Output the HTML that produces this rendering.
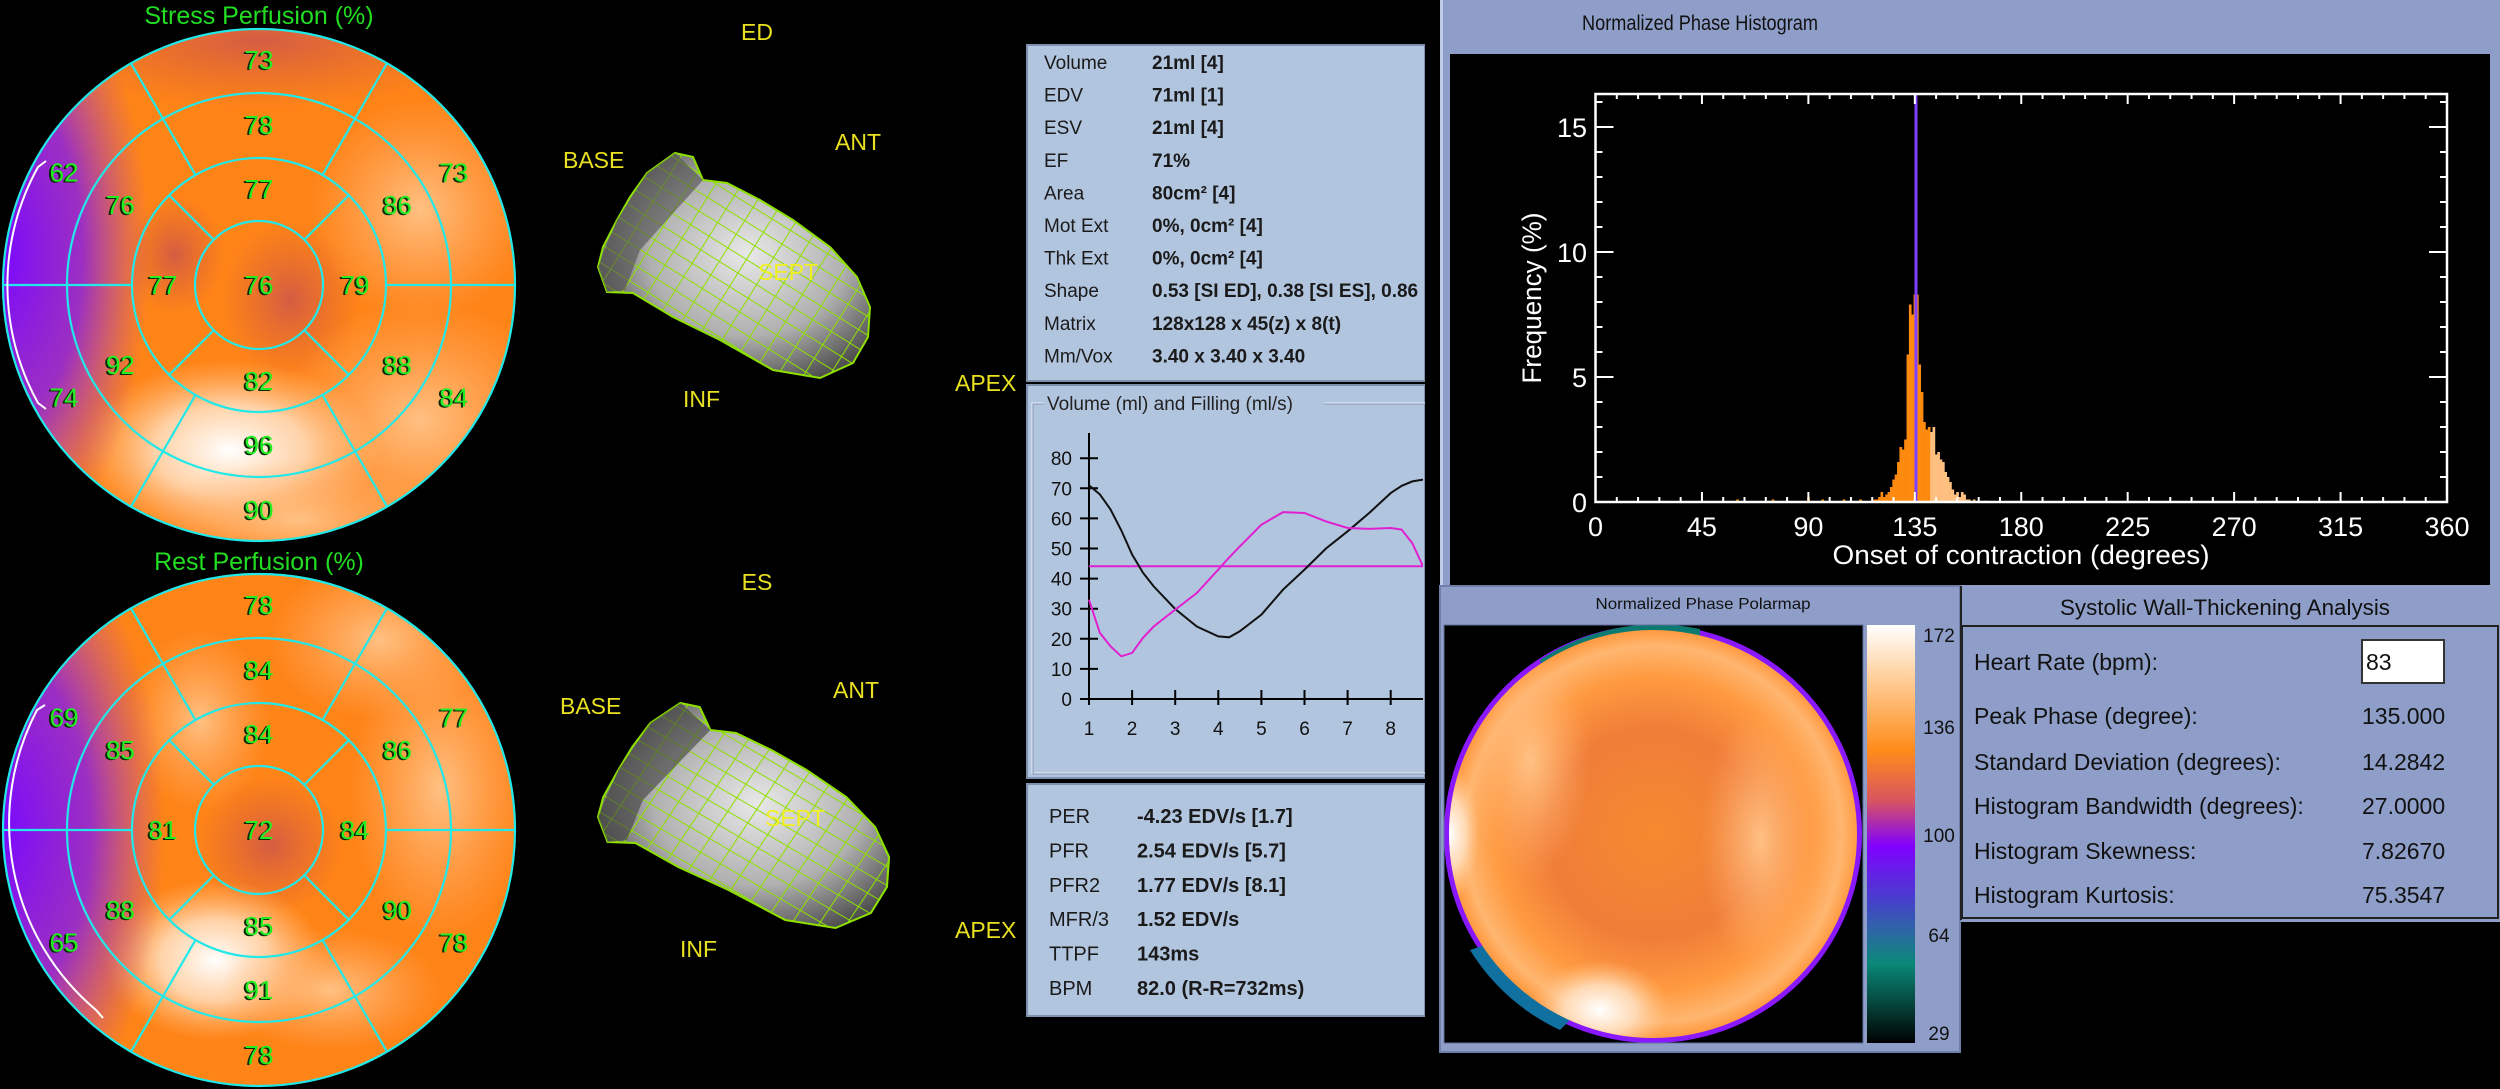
<!DOCTYPE html>
<html><head><meta charset="utf-8"><style>
html,body{margin:0;padding:0;background:#000;overflow:hidden;width:2500px;height:1089px;}
svg{display:block;}
text{font-family:"Liberation Sans",sans-serif;}
</style></head><body>
<svg id="root" xmlns="http://www.w3.org/2000/svg" width="2500" height="1089" viewBox="0 0 2500 1089">
<defs>
  <radialGradient id="gPurpleL" cx="0.5" cy="0.5" r="0.5"><stop offset="0" stop-color="#7a08ff" stop-opacity="1"/><stop offset="0.55" stop-color="#8a20e0" stop-opacity="0.85"/><stop offset="1" stop-color="#a040c0" stop-opacity="0"/></radialGradient>
  <radialGradient id="gWhite" cx="0.5" cy="0.5" r="0.5"><stop offset="0" stop-color="#ffffff" stop-opacity="1"/><stop offset="0.5" stop-color="#ffe6cc" stop-opacity="0.8"/><stop offset="1" stop-color="#ffc890" stop-opacity="0"/></radialGradient>
  <radialGradient id="gPeach" cx="0.5" cy="0.5" r="0.5"><stop offset="0" stop-color="#ffc488" stop-opacity="0.95"/><stop offset="1" stop-color="#ffb070" stop-opacity="0"/></radialGradient>
  <radialGradient id="gDark" cx="0.5" cy="0.5" r="0.5"><stop offset="0" stop-color="#d05848" stop-opacity="0.9"/><stop offset="1" stop-color="#d86038" stop-opacity="0"/></radialGradient>
  <radialGradient id="gHeart" cx="0.55" cy="0.45" r="0.6"><stop offset="0" stop-color="#e8e8e8"/><stop offset="0.6" stop-color="#b0b0b0"/><stop offset="1" stop-color="#505050"/></radialGradient>
  <pattern id="mesh" width="22" height="16" patternUnits="userSpaceOnUse" patternTransform="rotate(32)"><path d="M0 0H22M0 0V16" stroke="#8ee000" stroke-width="2" fill="none"/></pattern>
  <linearGradient id="gBar" x1="0" y1="0" x2="0" y2="1"><stop offset="0" stop-color="#ffffff"/><stop offset="0.12" stop-color="#ffd2a0"/><stop offset="0.3" stop-color="#ff8c1a"/><stop offset="0.42" stop-color="#d85560"/><stop offset="0.53" stop-color="#8000ff"/><stop offset="0.65" stop-color="#4a3cd0"/><stop offset="0.74" stop-color="#2a6aa0"/><stop offset="0.81" stop-color="#0a8878"/><stop offset="0.9" stop-color="#064a40"/><stop offset="1" stop-color="#000000"/></linearGradient>
  <radialGradient id="gPhase" cx="0.5" cy="0.5" r="0.5"><stop offset="0" stop-color="#f58a30"/><stop offset="0.5" stop-color="#f07d38"/><stop offset="0.75" stop-color="#ff9a40"/><stop offset="0.9" stop-color="#ffb670"/><stop offset="1" stop-color="#ff9030"/></radialGradient>
  <clipPath id="clipStress"><circle cx="259" cy="285" r="256"/></clipPath>
  <clipPath id="clipRest"><circle cx="259" cy="830" r="256"/></clipPath>
  <clipPath id="clipMid"><rect x="1029" y="45" width="394" height="1000"/></clipPath>
  <clipPath id="clipPhase"><circle cx="1653" cy="834" r="204"/></clipPath>
</defs>

<g>
  <text x="259" y="24" font-size="25" fill="#22dd22" text-anchor="middle">Stress Perfusion (%)</text>
  <g clip-path="url(#clipStress)">
    <rect x="0" y="25" width="520" height="520" fill="#ff8418"/>
    <ellipse cx="260" cy="40" rx="230" ry="70" fill="url(#gDark)"/>
    <ellipse cx="290" cy="300" rx="70" ry="80" fill="url(#gDark)"/>
    <ellipse cx="175" cy="255" rx="50" ry="60" fill="url(#gDark)"/>
    <ellipse cx="420" cy="210" rx="110" ry="110" fill="url(#gPeach)"/>
    <ellipse cx="420" cy="420" rx="140" ry="120" fill="url(#gPeach)"/>
    <ellipse cx="230" cy="450" rx="150" ry="90" fill="url(#gWhite)"/>
    <ellipse cx="300" cy="520" rx="150" ry="60" fill="url(#gPeach)"/>
    <ellipse cx="0" cy="255" rx="150" ry="310" fill="url(#gPurpleL)"/>
  </g>
  <g id="stressGrid" stroke="#22e8e8" stroke-width="2.2" fill="none"></g>
  <g id="stressLabels"></g>
  <path d="M46 161 L38 167 A243 243 0 0 0 38 403 L46 409" stroke="#fff" stroke-width="2" fill="none"/>
</g>

<g>
  <text x="259" y="570" font-size="25" fill="#22dd22" text-anchor="middle">Rest Perfusion (%)</text>
  <g clip-path="url(#clipRest)">
    <rect x="0" y="570" width="520" height="520" fill="#ff8418"/>
    <ellipse cx="270" cy="845" rx="75" ry="70" fill="url(#gDark)"/>
    <ellipse cx="380" cy="640" rx="110" ry="80" fill="url(#gPeach)"/>
    <ellipse cx="440" cy="790" rx="90" ry="150" fill="url(#gPeach)"/>
    <ellipse cx="200" cy="720" rx="70" ry="90" fill="url(#gPeach)"/>
    <ellipse cx="215" cy="960" rx="110" ry="80" fill="url(#gWhite)"/>
    <ellipse cx="330" cy="990" rx="110" ry="60" fill="url(#gPeach)"/>
    <ellipse cx="0" cy="830" rx="165" ry="320" fill="url(#gPurpleL)"/>
  </g>
  <g id="restGrid" stroke="#22e8e8" stroke-width="2.2" fill="none"></g>
  <g id="restLabels"></g>
  <path d="M45 705 L37 710 A244 244 0 0 0 96 1010 L103 1018" stroke="#fff" stroke-width="2" fill="none"/>
</g>

<g font-size="23" fill="#e8e020">
  <text x="757" y="40" text-anchor="middle">ED</text>
  <text x="563" y="168">BASE</text>
  <text x="835" y="150">ANT</text>
  <g>
    <polygon points="675,153 693,157 703,180 727,183 760,200 793,220 830,247 857,277 870,307 868,337 853,363 820,378 773,370 720,340 673,317 633,293 607,292 598,267 603,247 617,220 630,197 647,173" fill="url(#gHeart)" stroke="#8ee000" stroke-width="2"/>
    <polygon points="675,153 693,157 703,180 727,183 760,200 793,220 830,247 857,277 870,307 868,337 853,363 820,378 773,370 720,340 673,317 633,293 607,292 598,267 603,247 617,220 630,197 647,173" fill="url(#mesh)"/>
    <polygon points="675,153 703,180 640,250 625,290 607,292 598,267 617,220 647,173" fill="#505050" opacity="0.6"/>
  </g>
  <text x="758" y="280" fill="#f0f020">SEPT</text>
  <text x="683" y="407">INF</text>
  <text x="955" y="391">APEX</text>
</g>
<g font-size="23" fill="#e8e020">
  <text x="757" y="590" text-anchor="middle">ES</text>
  <text x="560" y="714">BASE</text>
  <text x="833" y="698">ANT</text>
  <g transform="translate(598 550) scale(1.07 1.0) translate(-598 0)">
    <polygon points="675,153 693,157 703,180 727,183 760,200 793,220 830,247 857,277 870,307 868,337 853,363 820,378 773,370 720,340 673,317 633,293 607,292 598,267 603,247 617,220 630,197 647,173" fill="url(#gHeart)" stroke="#8ee000" stroke-width="2"/>
    <polygon points="675,153 693,157 703,180 727,183 760,200 793,220 830,247 857,277 870,307 868,337 853,363 820,378 773,370 720,340 673,317 633,293 607,292 598,267 603,247 617,220 630,197 647,173" fill="url(#mesh)"/>
    <polygon points="675,153 703,180 640,250 625,290 607,292 598,267 617,220 647,173" fill="#404040" opacity="0.6"/>
  </g>
  <text x="765" y="826" fill="#f0f020">SEPT</text>
  <text x="680" y="957">INF</text>
  <text x="955" y="938">APEX</text>
</g>

<g>
  <rect x="1027" y="45" width="398" height="336" fill="#b2c5df" stroke="#7f8fae" stroke-width="2"/>
  <g font-size="19" fill="#1a1a1a" id="statsTop"></g>
  <rect x="1027" y="385" width="398" height="393" fill="#b2c5df" stroke="#7f8fae" stroke-width="2"/>
  <rect x="1032" y="403" width="400" height="370" fill="none" stroke="#dbe4f0" stroke-width="1.5"/>
  <rect x="1033" y="404" width="400" height="370" fill="none" stroke="#8797b5" stroke-width="1"/>
  <rect x="1043" y="390" width="282" height="26" fill="#b2c5df"/>
  <text x="1047" y="410" font-size="19" fill="#222">Volume (ml) and Filling (ml/s)</text>
  <g id="volChart" clip-path="url(#clipMid)"></g>
  <rect x="1027" y="784" width="398" height="232" fill="#b2c5df" stroke="#7f8fae" stroke-width="2"/>
  <g font-size="20" fill="#1a1a1a" id="statsBottom"></g>
</g>
<rect x="1425" y="0" width="15" height="1089" fill="#000"/>

<g>
  <rect x="1440" y="0" width="1060" height="1052" fill="#8e9ec8"/>
  <rect x="1440" y="0" width="3" height="1052" fill="#c0ccea"/>
  <text x="1700" y="30" font-size="21" fill="#111" text-anchor="middle" textLength="236" lengthAdjust="spacingAndGlyphs">Normalized Phase Histogram</text>
  <rect x="1450" y="54" width="1040" height="531" fill="#000"/>
  <g id="hist"></g>
</g>

<g>
  <rect x="1440" y="586" width="520" height="466" fill="#8e9ec8" stroke="#6f7fa8" stroke-width="2"/>
  <text x="1703" y="609" font-size="16" fill="#111" text-anchor="middle" textLength="215" lengthAdjust="spacingAndGlyphs">Normalized Phase Polarmap</text>
  <rect x="1444" y="625" width="419" height="418" fill="#000"/>
  <circle cx="1653" cy="834" r="209" fill="#8a18ff"/>
  <path d="M1540 660 A209 209 0 0 1 1700 629 L1700 645 L1545 675 Z" fill="#0c7a70"/>
  <path d="M1470 950 A209 209 0 0 0 1560 1030 L1575 1015 L1485 945 Z" fill="#1070a0"/>
  <g clip-path="url(#clipPhase)">
    <rect x="1444" y="625" width="419" height="418" fill="url(#gPhase)"/>
    <ellipse cx="1530" cy="760" rx="60" ry="120" fill="url(#gPeach)"/>
    <ellipse cx="1760" cy="840" rx="60" ry="130" fill="url(#gPeach)"/>
    <ellipse cx="1600" cy="1010" rx="70" ry="50" fill="url(#gWhite)"/>
    <ellipse cx="1450" cy="834" rx="30" ry="70" fill="url(#gWhite)"/>
  </g>
  <rect x="1444" y="625" width="419" height="418" fill="none" stroke="#6070a0" stroke-width="1"/>
  <rect x="1867" y="625" width="48" height="418" fill="url(#gBar)"/>
  <g font-size="19" fill="#111" text-anchor="middle">
    <text x="1939" y="642">172</text><text x="1939" y="734">136</text><text x="1939" y="842">100</text><text x="1939" y="942">64</text><text x="1939" y="1040">29</text>
  </g>
</g>

<g>
  <rect x="1961" y="586" width="539" height="37" fill="#8e9ec8"/>
  <line x1="1961" y1="586" x2="1961" y2="920" stroke="#222" stroke-width="2"/>
  <text x="2225" y="615" font-size="22" fill="#111" text-anchor="middle" textLength="330" lengthAdjust="spacingAndGlyphs">Systolic Wall-Thickening Analysis</text>
  <rect x="1962" y="626" width="536" height="292" fill="#8e9ec8" stroke="#222" stroke-width="2"/>
  <g id="wallStats" font-size="23" fill="#111"></g>
  <rect x="2362" y="640" width="82" height="43" fill="#fff" stroke="#333" stroke-width="2"/>
  <text x="2366" y="670" font-size="23" fill="#111">83</text>
</g>
<rect x="1961" y="922" width="539" height="167" fill="#000"/>
</svg>
<script>
const basalAngles=[90,30,-30,-90,-150,150];
const apicalAngles=[90,0,-90,180];
const stressBasal=[73,73,84,90,74,62];
const stressMid=[78,86,88,96,92,76];
const stressApical=[77,79,82,77];
const stressApex=76;
const restBasal=[78,77,78,78,65,69];
const restMid=[84,86,90,91,88,85];
const restApical=[84,84,85,81];
const restApex=72;
const NS='http://www.w3.org/2000/svg';
function mk(tag,attrs,parent){const e=document.createElementNS(NS,tag);for(const k in attrs)e.setAttribute(k,attrs[k]);parent.appendChild(e);return e;}
function polar(cx,cy,gridId,labId,basal,mid,apical,apex,prefix){
  const g=document.getElementById(gridId), L=document.getElementById(labId);
  const R=[256,192,127,64];
  R.forEach((r,i)=>{const c=mk('circle',{cx:cx,cy:cy,r:r},g);
    
    });
  const rad=a=>a*Math.PI/180;
  [0,60,120,180,240,300].forEach(a=>{const l=mk('line',{x1:cx+127*Math.cos(rad(a)),y1:cy-127*Math.sin(rad(a)),x2:cx+256*Math.cos(rad(a)),y2:cy-256*Math.sin(rad(a))},g);
    
    });
  [45,135,225,315].forEach(a=>{const l=mk('line',{x1:cx+64*Math.cos(rad(a)),y1:cy-64*Math.sin(rad(a)),x2:cx+127*Math.cos(rad(a)),y2:cy-127*Math.sin(rad(a))},g);
    
    });
  function lab(x,y,v){
    const s=mk('text',{x:x-2,y:y+10,'font-size':26,'text-anchor':'middle',fill:'#0a2a0a'},L);s.textContent=v;
    
    
    const t=mk('text',{x:x,y:y+9,'font-size':26,'text-anchor':'middle',fill:'#22ee22'},L);t.textContent=v;
    
    }
  basal.forEach((v,i)=>lab(cx+225*Math.cos(rad(basalAngles[i])),cy-225*Math.sin(rad(basalAngles[i])),v));
  mid.forEach((v,i)=>lab(cx+160*Math.cos(rad(basalAngles[i])),cy-160*Math.sin(rad(basalAngles[i])),v));
  apical.forEach((v,i)=>lab(cx+96*Math.cos(rad(apicalAngles[i])),cy-96*Math.sin(rad(apicalAngles[i])),v));
  lab(cx,cy,apex);
}
polar(259,285,'stressGrid','stressLabels',stressBasal,stressMid,stressApical,stressApex,'stress');
polar(259,830,'restGrid','restLabels',restBasal,restMid,restApical,restApex,'rest');

const topLabels=['Volume','EDV','ESV','EF','Area','Mot Ext','Thk Ext','Shape','Matrix','Mm/Vox'];
const topValues=['21ml [4]','71ml [1]','21ml [4]','71%','80cm\u00b2 [4]','0%, 0cm\u00b2 [4]','0%, 0cm\u00b2 [4]','0.53 [SI ED],  0.38 [SI ES],  0.86','128x128 x 45(z) x 8(t)','3.40 x 3.40 x 3.40'];
const st=document.getElementById('statsTop');
topLabels.forEach((l,i)=>{const y=69+i*32.6;
  const a=mk('text',{x:1044,y:y},st);a.textContent=l;
  
  
  const b=mk('text',{x:1152,y:y,'font-weight':'bold','clip-path':'url(#clipMid)'},st);b.textContent=topValues[i];
  
  });
const botLabels=['PER','PFR','PFR2','MFR/3','TTPF','BPM'];
const botValues=['-4.23 EDV/s [1.7]','2.54 EDV/s [5.7]','1.77 EDV/s [8.1]','1.52 EDV/s','143ms','82.0 (R-R=732ms)'];
const sb=document.getElementById('statsBottom');
botLabels.forEach((l,i)=>{const y=823+i*34.4;
  const a=mk('text',{x:1049,y:y},sb);a.textContent=l;
  
  
  const b=mk('text',{x:1137,y:y,'font-weight':'bold'},sb);b.textContent=botValues[i];
  
  });

const frames=[1,1.25,1.5,1.75,2,2.25,2.5,3,3.5,4,4.25,4.5,5,5.5,6,6.5,7,7.5,8,8.25,8.5,8.75];
const volume=[71,68,63,56,48,42,37.4,29.9,24.1,20.8,20.5,22.5,28,36.3,43,50,55.7,61.8,68.4,70.8,72.3,72.9];
const filling=[33,22,17.5,14.2,15.3,20.3,24.1,29.7,35.2,43,47,50.7,57.9,62.1,61.8,59,56.8,56.5,56.8,56.3,51.8,44.1];
const fillingMean=44.1;
const volYTicks=[0,10,20,30,40,50,60,70,80];
const volXTicks=[1,2,3,4,5,6,7,8];
const vx=t=>1089+(t-1)*43.1, vy=v=>699-v*3.01;
const vc=document.getElementById('volChart');
let ax=mk('line',{x1:vx(1),y1:433,x2:vx(1),y2:vy(0)+6,stroke:'#000','stroke-width':2},vc);


ax=mk('line',{x1:vx(1)-8,y1:vy(0),x2:1430,y2:vy(0),stroke:'#000','stroke-width':2},vc);


volYTicks.forEach(v=>{const l=mk('line',{x1:vx(1)-9,y1:vy(v),x2:vx(1)+9,y2:vy(v),stroke:'#000','stroke-width':2},vc);
  
  
  const t=mk('text',{x:1072,y:vy(v)+7,'font-size':19,'text-anchor':'end',fill:'#111'},vc);t.textContent=v;
  
  });
volXTicks.forEach(v=>{const l=mk('line',{x1:vx(v),y1:vy(0)-9,x2:vx(v),y2:vy(0)+6,stroke:'#000','stroke-width':2},vc);
  
  
  const t=mk('text',{x:vx(v),y:735,'font-size':19,'text-anchor':'middle',fill:'#111'},vc);t.textContent=v;
  
  });
let hl=mk('line',{x1:vx(1),y1:vy(fillingMean),x2:1430,y2:vy(fillingMean),stroke:'#e020d0','stroke-width':2},vc);


function linePath(xs,ys){let d='M'+vx(xs[0])+' '+vy(ys[0]);for(let i=1;i<xs.length;i++){d+=' L'+vx(xs[i]).toFixed(1)+' '+vy(ys[i]).toFixed(1);}return d;}
let p=mk('path',{d:linePath(frames,volume),fill:'none',stroke:'#111','stroke-width':2},vc);


p=mk('path',{d:linePath(frames,filling),fill:'none',stroke:'#e020d0','stroke-width':2},vc);



const wallLabels=['Heart Rate (bpm):','Peak Phase (degree):','Standard Deviation (degrees):','Histogram Bandwidth (degrees):','Histogram Skewness:','Histogram Kurtosis:'];
const wallValues=['','135.000','14.2842','27.0000','7.82670','75.3547'];
const wallY=[670,724,770,814,859,903];
const ws=document.getElementById('wallStats');
wallLabels.forEach((l,i)=>{const a=mk('text',{x:1974,y:wallY[i]},ws);a.textContent=l;
  
  
  if(wallValues[i]){const b=mk('text',{x:2362,y:wallY[i]},ws);b.textContent=wallValues[i];
  
  }});

const histDegrees=[60,75,90,96,105,112,118,119,120,121,122,123,124,125,126,127,128,129,130,131,132,133,134,135,136,137,138,139,140,141,142,143,144,145,146,147,148,149,150,151,152,153,154,155,156,157,158,160,165];
const histFreq=[0.1,0.1,0.2,0.1,0.1,0.1,0.1,0.1,0.2,0.4,0.2,0.3,0.4,0.6,0.9,1.1,1.6,2.2,2.1,2.5,5.9,7.9,7.5,8.3,8.3,5.5,4.4,3.2,2.9,3.0,2.8,3.0,1.9,2.0,1.7,1.6,1.2,1.0,0.8,0.5,0.3,0.4,0.2,0.4,0.3,0.1,0.1,0.1,0.05];
const peakDegree=135.5, peakFreq=16.3;
const xTicks=[0,45,90,135,180,225,270,315,360];
const yTicks=[0,5,10,15];
const hx=d=>1595.5+d*(2447-1595.5)/360, hy=f=>502-f*25;
const H=document.getElementById('hist');
histDegrees.forEach((d,i)=>{const r=mk('rect',{x:hx(d-0.5),y:hy(histFreq[i]),width:hx(1)-hx(0)+0.3,height:hy(0)-hy(histFreq[i]),fill:d<142?'#ff8a10':'#ffc080'},H);
  
  });
let sp=mk('line',{x1:hx(peakDegree),y1:hy(peakFreq),x2:hx(peakDegree),y2:hy(0),stroke:'#8040ff','stroke-width':3},H);


let fr=mk('rect',{x:hx(0),y:94,width:hx(360)-hx(0),height:hy(0)-94,fill:'none',stroke:'#fff','stroke-width':2.5},H);


for(let d=0;d<=360;d+=9){const major=d%45===0;const len=major?10:5;
  const t1=mk('line',{x1:hx(d),y1:hy(0),x2:hx(d),y2:hy(0)-len,stroke:'#fff','stroke-width':2},H);
  
  
  const t2=mk('line',{x1:hx(d),y1:94,x2:hx(d),y2:94+len,stroke:'#fff','stroke-width':2},H);
  
  }
for(let f=0;f<=16;f++){const major=f%5===0;const len=major?18:7;
  const t1=mk('line',{x1:hx(0),y1:hy(f),x2:hx(0)+len,y2:hy(f),stroke:'#fff','stroke-width':2},H);
  
  
  const t2=mk('line',{x1:hx(360),y1:hy(f),x2:hx(360)-len,y2:hy(f),stroke:'#fff','stroke-width':2},H);
  
  }
xTicks.forEach(d=>{const t=mk('text',{x:hx(d),y:536,'font-size':27,'text-anchor':'middle',fill:'#fff'},H);t.textContent=d;
  
  });
yTicks.forEach(f=>{const t=mk('text',{x:1587,y:hy(f)+10,'font-size':27,'text-anchor':'end',fill:'#fff'},H);t.textContent=f;
  
  });
let xt=mk('text',{x:2021,y:564,'font-size':27,'text-anchor':'middle',fill:'#fff',textLength:377,lengthAdjust:'spacingAndGlyphs'},H);xt.textContent='Onset of contraction (degrees)';


let yt=mk('text',{x:0,y:0,'font-size':27,'text-anchor':'middle',fill:'#fff',textLength:171,lengthAdjust:'spacingAndGlyphs',transform:'translate(1541 298) rotate(-90)'},H);yt.textContent='Frequency (%)';


</script>
</body></html>
